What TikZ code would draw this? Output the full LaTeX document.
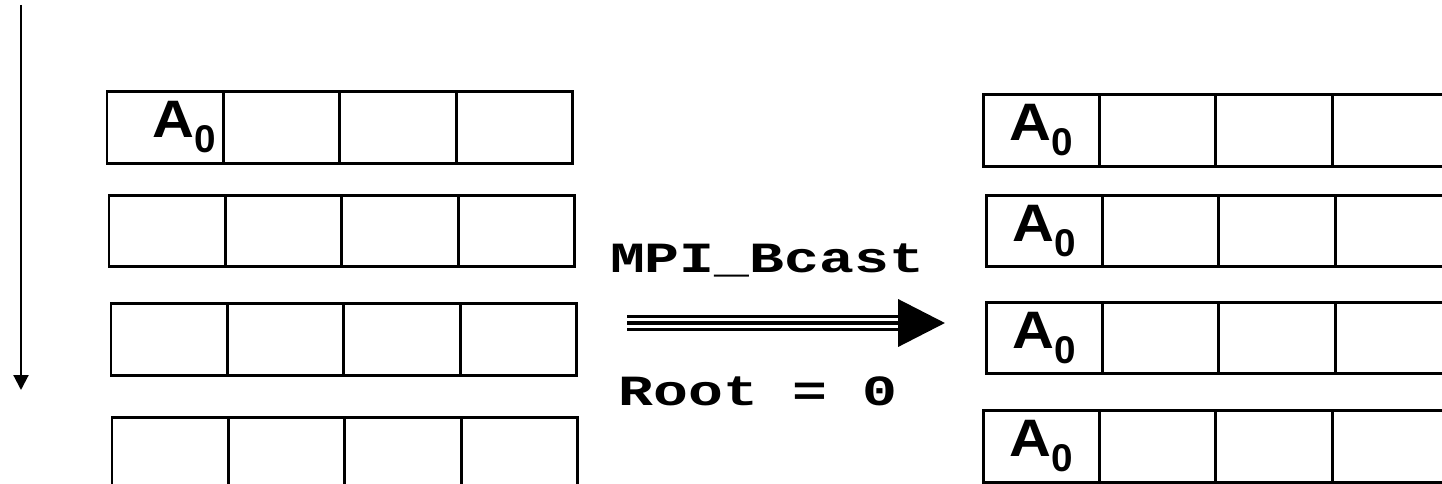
\documentclass[tikz,border=0pt]{standalone}
\usepackage{fontspec}
\setmainfont{Liberation Sans}
\newfontfamily\cellfont[FakeStretch=1.1]{Liberation Sans}
\newfontfamily\codefont[FakeStretch=1.35]{Liberation Mono}
\usetikzlibrary{positioning,arrows.meta}

\newcommand{\subidx}[1]{\raisebox{-8.5pt}{\rmfamily\bfseries\fontsize{22}{22}\selectfont #1}}

\tikzstyle{cell}=[rectangle,draw,line width=1.7pt,inner sep=0pt,outer sep=0pt,minimum width=2.33cm,minimum height=1.43cm,font=\cellfont\fontsize{30}{30}\selectfont\bfseries]
\tikzstyle{code}=[inner sep=0pt,anchor=base,font=\codefont\fontsize{24.5}{30}\selectfont\bfseries]

\begin{document}
\begin{tikzpicture}[x=0.02cm,y=-0.02cm]
\useasboundingbox (0,0) rectangle (1442,483);
\clip (0,0) rectangle (1442,483);

% rank order
\coordinate (ttop) at (21,5);
\coordinate (tbot) at (21,390);
\draw[line width=1.2pt,-{Triangle[length=8.5pt,width=8.5pt]}] (ttop) -- (tbot);

% before the call
\node[cell,anchor=west] (l1a) at (107,127.5) {\hspace*{22pt}A\subidx{0}};
\node[cell] (l1b) [right=0pt of l1a] {};
\node[cell] (l1c) [right=0pt of l1b] {};
\node[cell] (l1d) [right=0pt of l1c] {};
\node[cell,anchor=west] (l2a) at (109,231) {};
\node[cell] (l2b) [right=0pt of l2a] {};
\node[cell] (l2c) [right=0pt of l2b] {};
\node[cell] (l2d) [right=0pt of l2c] {};
\node[cell,anchor=west] (l3a) at (111,339.5) {};
\node[cell] (l3b) [right=0pt of l3a] {};
\node[cell] (l3c) [right=0pt of l3b] {};
\node[cell] (l3d) [right=0pt of l3c] {};
\node[cell,anchor=west] (l4a) at (112,453) {};
\node[cell] (l4b) [right=0pt of l4a] {};
\node[cell] (l4c) [right=0pt of l4b] {};
\node[cell] (l4d) [right=0pt of l4c] {};

% the call
\node[code] (bcast) at (767,272) {MPI\_Bcast};
\node[code] (root) at (758,405) {Root = 0};
\coordinate (bfrom) at (627,323);
\coordinate (bbase) at (900,323);
\coordinate (btip) at (945,323);
\draw[line width=1.2pt,double distance=6.2pt] (bfrom) -- (bbase);
\draw[line width=2.3pt,-{Triangle[length=26.7pt,width=26.7pt]}] (bfrom) -- (btip);

% after the call
\node[cell,anchor=west] (r1a) at (983,130.5) {A\subidx{0}};
\node[cell] (r1b) [right=0pt of r1a] {};
\node[cell] (r1c) [right=0pt of r1b] {};
\node[cell] (r1d) [right=0pt of r1c] {};
\node[cell,anchor=west] (r2a) at (986,231) {A\subidx{0}};
\node[cell] (r2b) [right=0pt of r2a] {};
\node[cell] (r2c) [right=0pt of r2b] {};
\node[cell] (r2d) [right=0pt of r2c] {};
\node[cell,anchor=west] (r3a) at (986,338) {A\subidx{0}};
\node[cell] (r3b) [right=0pt of r3a] {};
\node[cell] (r3c) [right=0pt of r3b] {};
\node[cell] (r3d) [right=0pt of r3c] {};
\node[cell,anchor=west] (r4a) at (983,446.5) {A\subidx{0}};
\node[cell] (r4b) [right=0pt of r4a] {};
\node[cell] (r4c) [right=0pt of r4b] {};
\node[cell] (r4d) [right=0pt of r4c] {};
\end{tikzpicture}
\end{document}
